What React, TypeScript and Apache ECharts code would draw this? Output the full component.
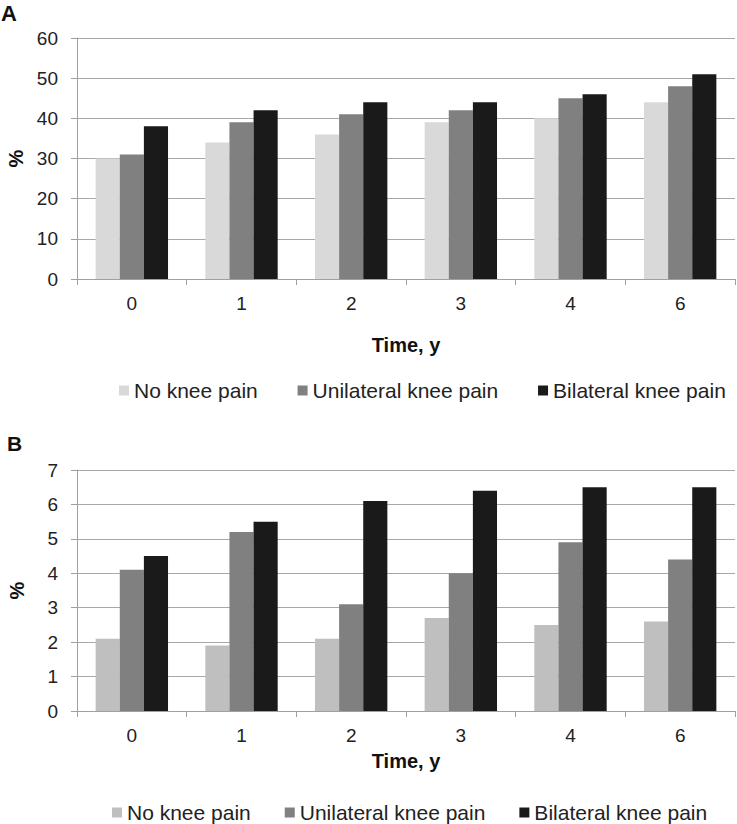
import React, { useEffect, useRef } from "react";
import * as echarts from "echarts";

const categories = ["0", "1", "2", "3", "4", "6"];
const seriesNames = ["No knee pain", "Unilateral knee pain", "Bilateral knee pain"];
const aNoPain = [30, 34, 36, 39, 40, 44];
const aUnilateral = [31, 39, 41, 42, 45, 48];
const aBilateral = [38, 42, 44, 44, 46, 51];
const bNoPain = [2.1, 1.9, 2.1, 2.7, 2.5, 2.6];
const bUnilateral = [4.1, 5.2, 3.1, 4.0, 4.9, 4.4];
const bBilateral = [4.5, 5.5, 6.1, 6.4, 6.5, 6.5];

const FONT = "'Liberation Sans', Arial, sans-serif";

export default function App() {
  const ref = useRef<HTMLDivElement>(null);
  useEffect(() => {
    if (!ref.current) return;
    const chart = echarts.init(ref.current, null, { renderer: "svg" });
    const colorsA = ["#d9d9d9", "#808080", "#1a1a1a"];
    const colorsB = ["#bfbfbf", "#808080", "#1a1a1a"];
    const xAxisBase = (idx: number, labelMargin: number, nameGap: number) => ({
      type: "category",
      gridIndex: idx,
      data: categories,
      axisLine: { lineStyle: { color: "#a0a0a0", width: 1 } },
      axisTick: { show: true, length: 6, alignWithLabel: false, lineStyle: { color: "#a0a0a0" } },
      axisLabel: { color: "#222", fontSize: 19, fontFamily: FONT, margin: labelMargin },
      name: "Time, y",
      nameLocation: "middle",
      nameGap,
      nameTextStyle: { color: "#111", fontSize: 20, fontWeight: "bold", fontFamily: FONT },
    });
    const yAxisBase = (idx: number, max: number, interval: number) => ({
      type: "value",
      gridIndex: idx,
      min: 0,
      max,
      interval,
      axisLine: { show: true, lineStyle: { color: "#a0a0a0" } },
      axisTick: { show: true, length: 6, lineStyle: { color: "#a0a0a0" } },
      axisLabel: { color: "#222", fontSize: 19, fontFamily: FONT, margin: 19 },
      splitLine: { show: true, lineStyle: { color: "#a8a8a8", width: 1 } },
      name: "%",
      nameLocation: "middle",
      nameGap: 50,
      nameRotate: 90,
      nameTextStyle: { color: "#111", fontSize: 20, fontWeight: "bold", fontFamily: FONT },
    });
    const mk = (name: string, data: number[], color: string, xi: number) => ({
      type: "bar",
      name,
      data,
      xAxisIndex: xi,
      yAxisIndex: xi,
      barGap: "0%",
      barCategoryGap: "34%",
      itemStyle: { color },
    });
    const legendBase = (left: number, top: number, names: string[], colors: string[]) => ({
      top,
      left,
      itemWidth: 10,
      itemHeight: 10,
      itemGap: 34,
      icon: "rect",
      data: names.map((n, i) => ({ name: n, itemStyle: { color: colors[i] } })),
      textStyle: { color: "#222", fontSize: 21, fontFamily: FONT },
    });
    const namesA = seriesNames.map((n) => n + " ");
    chart.setOption({
      animation: false,
      backgroundColor: "#ffffff",
      grid: [
        { left: 77, top: 38, right: 2, height: 241, containLabel: false, outerBoundsMode: "none" },
        { left: 77, top: 470, right: 2, height: 241, containLabel: false, outerBoundsMode: "none" },
      ],
      xAxis: [xAxisBase(0, 15, 56), xAxisBase(1, 15, 40)],
      yAxis: [yAxisBase(0, 60, 10), yAxisBase(1, 7, 1)],
      legend: [
        legendBase(114, 375, namesA, colorsA),
        legendBase(107, 797, seriesNames, colorsB),
      ],
      graphic: [
        { type: "text", left: 1, top: 2, style: { text: "A", fontSize: 22, fontWeight: "bold", fontFamily: FONT, fill: "#111" } },
        { type: "text", left: 7, top: 433, style: { text: "B", fontSize: 21, fontWeight: "bold", fontFamily: FONT, fill: "#111" } },
      ],
      series: [
        mk(namesA[0], aNoPain, colorsA[0], 0),
        mk(namesA[1], aUnilateral, colorsA[1], 0),
        mk(namesA[2], aBilateral, colorsA[2], 0),
        mk(seriesNames[0], bNoPain, colorsB[0], 1),
        mk(seriesNames[1], bUnilateral, colorsB[1], 1),
        mk(seriesNames[2], bBilateral, colorsB[2], 1),
      ],
    });
    return () => chart.dispose();
  }, []);
  return (
    <div
      ref={ref}
      style={{ position: "fixed", left: 0, top: 0, width: 737, height: 824, background: "#fff" }}
    />
  );
}
